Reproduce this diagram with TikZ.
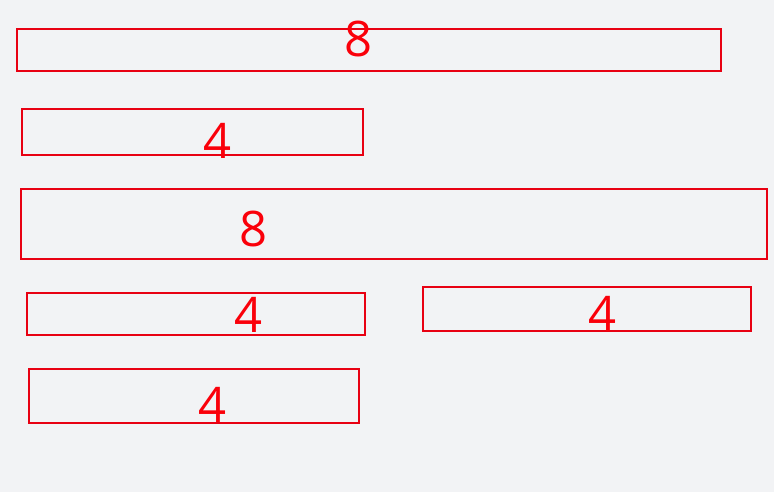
\documentclass[tikz,border=0pt]{standalone}
\usepackage{fontspec}
\setmainfont{Open Sans}
\definecolor{bg}{RGB}{242,243,245}
\definecolor{mark}{RGB}{232,0,18}
\definecolor{numred}{RGB}{250,0,10}
\tikzset{
  box/.style={draw=mark, line width=1.6pt, rectangle, inner sep=0pt},
  num/.style={text=numred, inner sep=0pt, font=\fontsize{49}{49}\selectfont}
}
\begin{document}
\begin{tikzpicture}[x=1pt,y=-1pt]
\useasboundingbox (0,0) rectangle (774,492);
\fill[bg] (0,0) rectangle (774,492);
% boxes: centre, width, height
\node[box, minimum width=704pt, minimum height=42pt] (b1) at (369,50) {};
\node[box, minimum width=341pt, minimum height=46pt] (b2) at (192.5,132) {};
\node[box, minimum width=746pt, minimum height=70pt] (b3) at (394,224) {};
\node[box, minimum width=338pt, minimum height=42pt] (b4) at (196,314) {};
\node[box, minimum width=328pt, minimum height=44pt] (b6) at (587,309) {};
\node[box, minimum width=330pt, minimum height=54pt] (b5) at (194,396) {};
% numbers
\node[num] (n1) at (359,39) {8};
\node[num] (n2) at (218,141) {4};
\node[num] (n3) at (253.5,228.5) {8};
\node[num] (n4) at (249,314.5) {4};
\node[num] (n6) at (602.5,313.5) {4};
\node[num] (n5) at (212.5,405) {4};
\end{tikzpicture}
\end{document}
